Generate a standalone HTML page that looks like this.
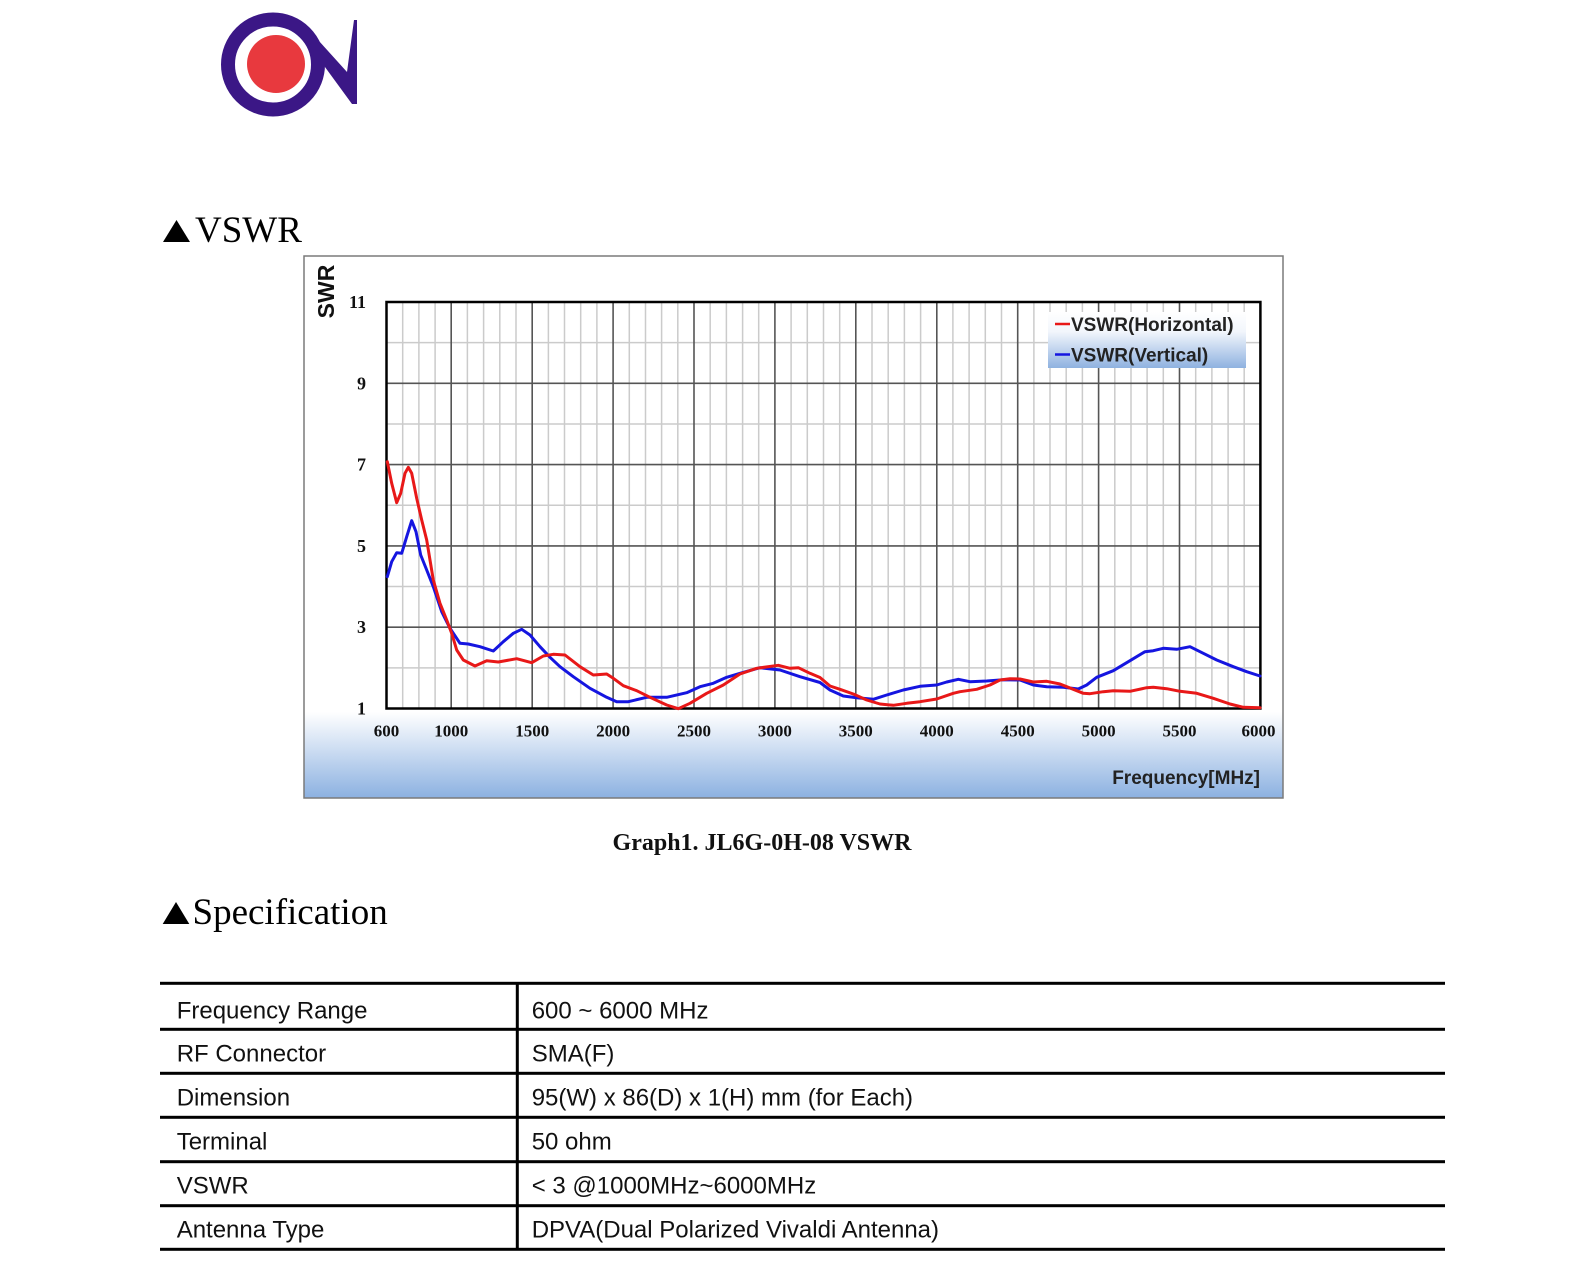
<!DOCTYPE html>
<html>
<head>
<meta charset="utf-8">
<style>
  html,body{margin:0;padding:0;background:#fff;}
  svg{display:block;}
</style>
</head>
<body>
<svg width="1586" height="1275" viewBox="0 0 1586 1275" xmlns="http://www.w3.org/2000/svg">
  <defs>
    <linearGradient id="bg" x1="0" y1="0" x2="0" y2="1">
      <stop offset="0" stop-color="#ffffff"/>
      <stop offset="1" stop-color="#8cb1e1"/>
    </linearGradient>
    <linearGradient id="lg" x1="0" y1="0" x2="0" y2="1">
      <stop offset="0" stop-color="#ffffff"/>
      <stop offset="0.35" stop-color="#f2f6fc"/>
      <stop offset="1" stop-color="#8fb2e0"/>
    </linearGradient>
  </defs>
  <rect x="0" y="0" width="1586" height="1275" fill="#fff"/>

  <!-- Logo -->
  <circle cx="273" cy="64.5" r="45" fill="none" stroke="#3b1786" stroke-width="14"/>
  <circle cx="276" cy="64" r="29" fill="#e8393e"/>
  <polygon points="300,20 347,72 354,20 357,20 357,104 352,104 314,52" fill="#3b1786"/>

  <!-- VSWR title -->
  <polygon points="163,242 190,242 176.5,220" fill="#000"/>
  <text x="195" y="242" font-family="'Liberation Serif', serif" font-size="37" fill="#000">VSWR</text>

  <!-- Chart box -->
  <rect x="304" y="256" width="979" height="542" fill="#fff"/>
  <rect x="304" y="712" width="979" height="86" fill="url(#bg)"/>
  <rect x="304" y="256" width="979" height="542" fill="none" stroke="#7a7a7a" stroke-width="1.5"/>

  <!-- minor grid -->
  <path fill="none" stroke="#cbcbcb" stroke-width="1.5" d="
    M402.7 302V708.5 M418.9 302V708.5 M435.1 302V708.5
    M467.4 302V708.5 M483.6 302V708.5 M499.8 302V708.5 M516.0 302V708.5
    M548.4 302V708.5 M564.5 302V708.5 M580.7 302V708.5 M596.9 302V708.5
    M629.3 302V708.5 M645.5 302V708.5 M661.6 302V708.5 M677.8 302V708.5
    M710.2 302V708.5 M726.4 302V708.5 M742.6 302V708.5 M758.7 302V708.5
    M791.1 302V708.5 M807.3 302V708.5 M823.5 302V708.5 M839.7 302V708.5
    M872.0 302V708.5 M888.2 302V708.5 M904.4 302V708.5 M920.6 302V708.5
    M952.9 302V708.5 M969.1 302V708.5 M985.3 302V708.5 M1001.5 302V708.5
    M1033.9 302V708.5 M1050.0 302V708.5 M1066.2 302V708.5 M1082.4 302V708.5
    M1114.8 302V708.5 M1131.0 302V708.5 M1147.1 302V708.5 M1163.3 302V708.5
    M1195.7 302V708.5 M1211.9 302V708.5 M1228.1 302V708.5 M1244.2 302V708.5
    M386.5 342.65H1260.4 M386.5 423.95H1260.4 M386.5 505.25H1260.4 M386.5 586.55H1260.4 M386.5 667.85H1260.4
  "/>
  <!-- major grid -->
  <path fill="none" stroke="#555" stroke-width="1.6" d="
    M451.2 302V708.5 M532.2 302V708.5 M613.1 302V708.5 M694.0 302V708.5 M774.9 302V708.5
    M855.8 302V708.5 M936.8 302V708.5 M1017.7 302V708.5 M1098.6 302V708.5 M1179.5 302V708.5
    M386.5 383.3H1260.4 M386.5 464.6H1260.4 M386.5 545.9H1260.4 M386.5 627.2H1260.4
  "/>

  <!-- legend -->
  <rect x="1048" y="312" width="198" height="56" fill="url(#lg)"/>
  <line x1="1055" y1="324" x2="1070" y2="324" stroke="#e81818" stroke-width="2.5"/>
  <line x1="1055" y1="354.5" x2="1070" y2="354.5" stroke="#1515e0" stroke-width="2.5"/>
  <text x="1071" y="331" font-family="'Liberation Sans', sans-serif" font-weight="bold" font-size="19" fill="#222">VSWR(Horizontal)</text>
  <text x="1071" y="361.5" font-family="'Liberation Sans', sans-serif" font-weight="bold" font-size="19" fill="#222">VSWR(Vertical)</text>

  <!-- plot border -->
  <rect x="386.5" y="302" width="873.9" height="406.5" fill="none" stroke="#000" stroke-width="2.5"/>

  <!-- curves -->
  <polyline fill="none" stroke="#1515e0" stroke-width="3" stroke-linejoin="round" stroke-linecap="round" points="
    387.3,576.7 391.7,561.7 396.7,552.7 401.7,553.3 406.7,536.7 411.7,520.7 416,531.7 420.7,555 426.7,570 433.3,586.7 441.7,611.7 450,628.3 460,643.3 468.3,644 480,646.7 493.3,651 503.3,641.7 513.3,633.3 521.7,629.3 530,635 540,646.7 550,657.3 560,666.7 573.3,676.7 590,688.3 606.7,697.3 616.7,701.7 628.3,701.7 646.7,697.3 666.7,697.3 686.7,692.7 700,686.7 713.3,683.3 726.7,677.3 740,673.3 760,667.7 780,670 800,676.7 820,682.5 830,690 843.3,696 856.7,697.7 873.3,699.3 886.7,695 903.3,690 920,686.3 936.7,685 946.7,682 958.3,679.3 970,681.7 986.7,681 1003.3,679.7 1020,680 1033.3,685 1046.7,686.7 1063.3,687.3 1078.3,689 1086.7,685 1096.7,677.3 1113.3,670.7 1130,660.7 1145,651.7 1153.3,650.7 1163.3,648.3 1176.7,649.3 1190,646.7 1203.3,653.3 1216.7,660 1233.3,666.7 1246.7,671.7 1260,676"/>
  <polyline fill="none" stroke="#e81818" stroke-width="3" stroke-linejoin="round" stroke-linecap="round" points="
    387.3,461.7 391.7,483.3 396.7,502.7 400.7,493.3 405,473.3 408.3,467.3 411.7,473.3 416.7,498.3 421.7,520 426.7,540 433.3,580 440,603.3 446.7,620 451.7,633.3 456.7,650 463.3,660 475,666 486.7,660.7 498.3,662 516.7,658.7 531.7,662.7 543.3,656 553.3,654.3 565,655 580,666.7 593.3,675 606.7,674 613.3,678.3 623.3,685.7 636.7,690.7 650,697.3 666.7,705 678.3,708.7 690,703.3 706.7,693.3 723.3,685 740,674 756.7,668.3 778.3,665.3 790,668.3 798.3,667.7 810,673.3 820,677.5 830,686 840,689.3 853.3,694 866.7,700 880,704 893.3,705.3 906.7,703.3 920,701.7 936.7,699 953.3,693.3 960,691.7 976.7,689.3 990,685 1000,680 1010,678.7 1020,679 1033.3,682 1046.7,681.3 1060,684 1073.3,689.3 1083.3,693.3 1090,693.7 1103.3,691.7 1113.3,690.7 1130,691.3 1146.7,687.7 1153.3,687.3 1166.7,688.7 1180,691.3 1196.7,693.3 1213.3,698.3 1230,704 1243.3,707.3 1260,707.7"/>

  <!-- y labels -->
  <g font-family="'Liberation Serif', serif" font-weight="bold" font-size="18" fill="#111" text-anchor="end">
    <text x="366" y="308">11</text>
    <text x="366" y="389.3">9</text>
    <text x="366" y="470.6">7</text>
    <text x="366" y="551.9">5</text>
    <text x="366" y="633.2">3</text>
    <text x="366" y="714.5">1</text>
  </g>
  <!-- x labels -->
  <g font-family="'Liberation Serif', serif" font-weight="bold" font-size="17" fill="#111" text-anchor="middle">
    <text x="386.5" y="736.5">600</text>
    <text x="451.2" y="736.5">1000</text>
    <text x="532.2" y="736.5">1500</text>
    <text x="613.1" y="736.5">2000</text>
    <text x="694.0" y="736.5">2500</text>
    <text x="774.9" y="736.5">3000</text>
    <text x="855.8" y="736.5">3500</text>
    <text x="936.8" y="736.5">4000</text>
    <text x="1017.7" y="736.5">4500</text>
    <text x="1098.6" y="736.5">5000</text>
    <text x="1179.5" y="736.5">5500</text>
    <text x="1258.5" y="736.5">6000</text>
  </g>
  <text transform="translate(334,291.5) rotate(-90)" text-anchor="middle" font-family="'Liberation Sans', sans-serif" font-weight="bold" font-size="23" fill="#111">SWR</text>
  <text x="1260" y="784" text-anchor="end" font-family="'Liberation Sans', sans-serif" font-weight="bold" font-size="19" fill="#222">Frequency[MHz]</text>

  <!-- caption -->
  <text x="762" y="850" text-anchor="middle" font-family="'Liberation Serif', serif" font-weight="bold" font-size="24" fill="#111">Graph1. JL6G-0H-08 VSWR</text>

  <!-- Specification title -->
  <polygon points="162.7,924 189.3,924 176,902" fill="#000"/>
  <text x="192.5" y="924" font-family="'Liberation Serif', serif" font-size="37" fill="#000">Specification</text>

  <!-- table -->
  <g fill="#000">
    <rect x="160" y="981.8" width="1285" height="3"/>
    <rect x="160" y="1027.8" width="1285" height="3"/>
    <rect x="160" y="1071.8" width="1285" height="3"/>
    <rect x="160" y="1115.8" width="1285" height="3"/>
    <rect x="160" y="1160.2" width="1285" height="3"/>
    <rect x="160" y="1204.2" width="1285" height="3"/>
    <rect x="160" y="1247.8" width="1285" height="3"/>
    <rect x="515.8" y="982" width="3" height="268"/>
  </g>
  <g font-family="'Liberation Sans', sans-serif" font-size="24" fill="#111">
    <text x="176.7" y="1018.3">Frequency Range</text>
    <text x="176.7" y="1061.7">RF Connector</text>
    <text x="176.7" y="1105.7">Dimension</text>
    <text x="176.7" y="1149.3">Terminal</text>
    <text x="176.7" y="1193.3">VSWR</text>
    <text x="176.7" y="1237.3">Antenna Type</text>
    <text x="531.7" y="1018.3">600 ~ 6000 MHz</text>
    <text x="531.7" y="1061.7">SMA(F)</text>
    <text x="531.7" y="1105.7">95(W) x 86(D) x 1(H) mm (for Each)</text>
    <text x="531.7" y="1149.3">50 ohm</text>
    <text x="531.7" y="1193.3">&lt; 3 @1000MHz~6000MHz</text>
    <text x="531.7" y="1237.3">DPVA(Dual Polarized Vivaldi Antenna)</text>
  </g>
</svg>
</body>
</html>
